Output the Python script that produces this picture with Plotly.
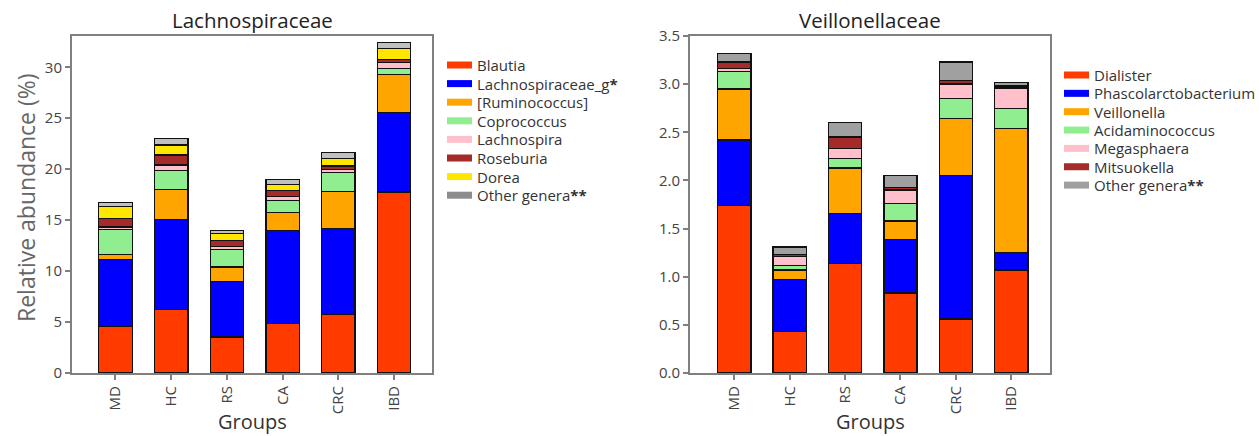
import plotly.graph_objects as go

groups = ["MD", "HC", "RS", "CA", "CRC", "IBD"]

# Lachnospiraceae genera (relative abundance %, stacked segments)
lach_genera = ["Blautia", "Lachnospiraceae_g<b>*</b>", "[Ruminococcus]", "Coprococcus",
               "Lachnospira", "Roseburia", "Dorea", "Other genera<b>**</b>"]
blautia = [4.58, 6.22, 3.54, 4.85, 5.76, 17.75]
lachno_g = [6.55, 8.84, 5.46, 9.16, 8.42, 7.82]
ruminococcus = [0.49, 2.95, 1.41, 1.71, 3.60, 3.74]
coprococcus = [2.46, 1.83, 1.74, 1.24, 1.87, 0.59]
lachnospira = [0.26, 0.56, 0.23, 0.39, 0.32, 0.55]
roseburia = [0.82, 0.98, 0.59, 0.59, 0.33, 0.33]
dorea = [1.21, 0.98, 0.72, 0.59, 0.75, 1.08]
lach_other = [0.33, 0.66, 0.32, 0.49, 0.56, 0.56]
lach_values = [blautia, lachno_g, ruminococcus, coprococcus, lachnospira, roseburia, dorea, lach_other]

# Veillonellaceae genera
veil_genera = ["Dialister", "Phascolarctobacterium", "Veillonella", "Acidaminococcus",
               "Megasphaera", "Mitsuokella", "Other genera<b>**</b>"]
dialister = [1.74, 0.43, 1.14, 0.83, 0.56, 1.07]
phascolarcto = [0.68, 0.54, 0.52, 0.56, 1.49, 0.18]
veillonella = [0.53, 0.10, 0.47, 0.19, 0.59, 1.29]
acidaminococcus = [0.18, 0.05, 0.10, 0.18, 0.21, 0.21]
megasphaera = [0.03, 0.09, 0.10, 0.14, 0.15, 0.21]
mitsuokella = [0.07, 0.02, 0.12, 0.03, 0.04, 0.02]
veil_other = [0.09, 0.08, 0.15, 0.12, 0.19, 0.04]
veil_values = [dialister, phascolarcto, veillonella, acidaminococcus, megasphaera, mitsuokella, veil_other]

lach_colors = ["#FF3B00", "#0000FF", "#FFA500", "#90EE90", "#FFC0CB", "#A52A2A", "#FFE600", "#C0C0C0"]
lach_legend_colors = lach_colors[:-1] + ["#8C8C8C"]
veil_colors = ["#FF3B00", "#0000FF", "#FFA500", "#90EE90", "#FFC0CB", "#A52A2A", "#A0A0A0"]

FONT = "Open Sans, Noto Sans, DejaVu Sans, sans-serif"
W, H = 1259, 436

fig = go.Figure()

for name, vals, col in zip(lach_genera, lach_values, lach_colors):
    fig.add_trace(go.Bar(x=groups, y=vals, name=name, marker=dict(color=col, line=dict(color="#111", width=1.3)),
                         width=0.6, xaxis="x", yaxis="y", showlegend=False))

for name, vals, col in zip(veil_genera, veil_values, veil_colors):
    fig.add_trace(go.Bar(x=groups, y=vals, name=name, marker=dict(color=col, line=dict(color="#111", width=1.3)),
                         width=0.6, xaxis="x2", yaxis="y2", showlegend=False))

axis_common = dict(showline=True, linecolor="#808080", linewidth=2, mirror=True, ticks="outside",
                   ticklen=5, tickcolor="#808080", tickwidth=1.5, showgrid=False, zeroline=False,
                   automargin=False, tickfont=dict(family=FONT, size=15, color="#444"))

shapes = []
annotations = []


def add_legend(names, colors, x_sw, y_first, step):
    # Legend entries: short colour bar + label, stacked downward
    for i, (nm, col) in enumerate(zip(names, colors)):
        yc = y_first + i * step
        shapes.append(dict(type="rect", xref="paper", yref="paper",
                           x0=x_sw / W, x1=(x_sw + 25) / W,
                           y0=1 - (yc + 3.5) / H, y1=1 - (yc - 3.5) / H,
                           fillcolor=col, line=dict(width=0), layer="above"))
        annotations.append(dict(text=nm, x=(x_sw + 28) / W, y=1 - yc / H, xref="paper", yref="paper",
                                showarrow=False, xanchor="left", yanchor="middle",
                                font=dict(family=FONT, size=15, color="#333")))


add_legend(lach_genera, lach_legend_colors, 447, 65, 18.6)
add_legend(veil_genera, veil_colors, 1064, 75, 18.35)

for txt, xc in [("Lachnospiraceae", 252), ("Veillonellaceae", 870)]:
    annotations.append(dict(text=txt, x=xc / W, y=1 - 20 / H, xref="paper", yref="paper", showarrow=False,
                            font=dict(family=FONT, size=20.5, color="#222"), xanchor="center", yanchor="middle"))
    annotations.append(dict(text="Groups", x=xc / W, y=1 - 421 / H, xref="paper", yref="paper", showarrow=False,
                            font=dict(family=FONT, size=20, color="#333"), xanchor="center", yanchor="middle"))
annotations.append(dict(text="Relative abundance (%)", x=26 / W, y=1 - 198 / H, xref="paper", yref="paper",
                        showarrow=False, textangle=-90, font=dict(family=FONT, size=23, color="#666"),
                        xanchor="center", yanchor="middle"))

ydom = [1 - 373 / H, 1 - 36 / H]
fig.update_layout(
    width=W, height=H, margin=dict(l=0, r=0, t=0, b=0),
    plot_bgcolor="white", paper_bgcolor="white", barmode="stack", showlegend=False,
    font=dict(family=FONT, color="#333"),
    xaxis=dict(domain=[72 / W, 432 / W], range=[-0.78, 5.68], tickangle=-90, type="category", **axis_common),
    yaxis=dict(domain=ydom, range=[0, 33.07], tickvals=[0, 5, 10, 15, 20, 25, 30], **axis_common),
    xaxis2=dict(domain=[690 / W, 1050 / W], range=[-0.8, 5.7], tickangle=-90, type="category", anchor="y2",
                **axis_common),
    yaxis2=dict(domain=ydom, range=[0, 3.5], tickvals=[0, 0.5, 1, 1.5, 2, 2.5, 3, 3.5], tickformat=".1f",
                anchor="x2", **axis_common),
    shapes=shapes,
    annotations=annotations,
)

fig.write_html("out.html")
